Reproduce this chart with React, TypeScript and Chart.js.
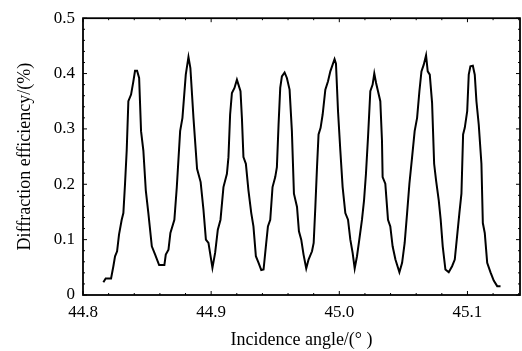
import React, { useEffect, useRef } from "react";
import { Chart, registerables } from "chart.js";

Chart.register(...registerables);

const angles: number[] = [
  44.8159, 44.8177, 44.8219, 44.8237, 44.825, 44.8266, 44.8281, 44.8302, 44.8315, 44.8328,
  44.8341, 44.8354, 44.8375, 44.8393, 44.8406, 44.8422, 44.8438, 44.8453, 44.8471, 44.849,
  44.851, 44.8537, 44.8563, 44.8594, 44.8635, 44.8646, 44.8667, 44.8682, 44.8713, 44.8732,
  44.8758, 44.8776, 44.8802, 44.8823, 44.8838, 44.8862, 44.889, 44.8918, 44.894, 44.8959,
  44.8979, 44.901, 44.9031, 44.9052, 44.9073, 44.9096, 44.9123, 44.9135, 44.9148, 44.9162,
  44.9182, 44.9201, 44.9213, 44.9229, 44.924, 44.9252, 44.9271, 44.9291, 44.9313, 44.933,
  44.9349, 44.937, 44.9391, 44.9409, 44.9427, 44.9443, 44.9461, 44.9479, 44.95, 44.9513,
  44.9526, 44.9539, 44.9552, 44.9573, 44.9591, 44.9612, 44.963, 44.9646, 44.967, 44.9685,
  44.9703, 44.9721, 44.9742, 44.976, 44.9787, 44.98, 44.9813, 44.9826, 44.9838, 44.9854,
  44.987, 44.9891, 44.9912, 44.993, 44.9948, 44.9963, 44.9974, 44.999, 45.0008, 45.0026,
  45.0047, 45.0068, 45.0086, 45.0104, 45.012, 45.0138, 45.0156, 45.0177, 45.0193, 45.0208,
  45.0224, 45.0242, 45.026, 45.0273, 45.0287, 45.032, 45.0333, 45.0338, 45.0359, 45.038,
  45.0398, 45.0416, 45.0438, 45.0469, 45.049, 45.051, 45.0529, 45.0547, 45.0568, 45.0588,
  45.0607, 45.0625, 45.0641, 45.0659, 45.0677, 45.069, 45.0706, 45.0724, 45.074, 45.0755,
  45.0776, 45.0791, 45.0807, 45.0828, 45.0854, 45.088, 45.0901, 45.0919, 45.0937, 45.0953,
  45.0966, 45.0979, 45.0998, 45.101, 45.1023, 45.1042, 45.1057, 45.107, 45.1088, 45.1109,
  45.112, 45.1135, 45.1154, 45.118, 45.1205, 45.1232, 45.1258,
];

const efficiency: number[] = [
  0.023, 0.03, 0.03, 0.052, 0.07, 0.079, 0.109, 0.136, 0.148, 0.201,
  0.261, 0.35, 0.362, 0.386, 0.405, 0.405, 0.392, 0.296, 0.261, 0.189,
  0.148, 0.088, 0.073, 0.054, 0.054, 0.073, 0.082, 0.112, 0.136, 0.195,
  0.296, 0.32, 0.398, 0.43, 0.41, 0.32, 0.228, 0.204, 0.154, 0.1,
  0.094, 0.049, 0.076, 0.118, 0.136, 0.195, 0.219, 0.249, 0.326, 0.365,
  0.374, 0.389, 0.38, 0.368, 0.32, 0.249, 0.237, 0.189, 0.148, 0.124,
  0.07, 0.058, 0.045, 0.046, 0.088, 0.124, 0.136, 0.195, 0.213, 0.231,
  0.308, 0.374, 0.395, 0.402, 0.392, 0.371, 0.296, 0.183, 0.159, 0.115,
  0.1, 0.073, 0.048, 0.064, 0.079, 0.094, 0.159, 0.231, 0.29, 0.302,
  0.326, 0.371, 0.386, 0.404, 0.416, 0.426, 0.418, 0.332, 0.261, 0.195,
  0.148, 0.136, 0.1, 0.076, 0.048, 0.07, 0.1, 0.136, 0.171, 0.219,
  0.285, 0.368, 0.38, 0.4, 0.383, 0.35, 0.279, 0.213, 0.201, 0.136,
  0.124, 0.088, 0.064, 0.041, 0.058, 0.094, 0.148, 0.201, 0.249, 0.296,
  0.32, 0.368, 0.404, 0.416, 0.433, 0.404, 0.398, 0.347, 0.237, 0.207,
  0.171, 0.136, 0.088, 0.046, 0.041, 0.052, 0.064, 0.106, 0.148, 0.183,
  0.29, 0.302, 0.332, 0.398, 0.413, 0.414, 0.398, 0.35, 0.308, 0.237,
  0.13, 0.112, 0.058, 0.041, 0.026, 0.016, 0.016,
];

const xTicks: number[] = [44.8, 44.9, 45.0, 45.1];
const yTicks: number[] = [0, 0.1, 0.2, 0.3, 0.4, 0.5];
const xTitle = "Incidence angle/(° )";
const yTitle = "Diffraction efficiency/(%)";

const FONT = "'Liberation Serif', 'Times New Roman', serif";

const framePlugin = {
  id: "frame",
  afterDraw(chart: any) {
    const { ctx, chartArea } = chart;
    const { left, right, top, bottom } = chartArea;
    const xs = chart.scales.x;
    const ys = chart.scales.y;
    ctx.save();
    ctx.strokeStyle = "#000";
    ctx.lineWidth = 1.8;
    ctx.strokeRect(left, top, right - left, bottom - top);
    ctx.lineWidth = 1;
    for (let v = 44.8; v <= 45.141; v += 0.02) {
      const px = xs.getPixelForValue(v);
      const major = Math.abs(Math.round(v * 10) - v * 10) < 1e-6;
      const len = major ? 4 : 2;
      ctx.beginPath();
      ctx.moveTo(px, bottom);
      ctx.lineTo(px, bottom - len);
      ctx.moveTo(px, top);
      ctx.lineTo(px, top + len);
      ctx.stroke();
    }
    for (let v = 0; v <= 0.5001; v += 0.02) {
      const py = ys.getPixelForValue(v);
      const major = Math.abs(Math.round(v * 10) - v * 10) < 1e-6;
      const len = major ? 4 : 2;
      ctx.beginPath();
      ctx.moveTo(left, py);
      ctx.lineTo(left + len, py);
      ctx.moveTo(right, py);
      ctx.lineTo(right - len, py);
      ctx.stroke();
    }
    ctx.restore();
  },
};

export default function App() {
  const ref = useRef<HTMLCanvasElement | null>(null);
  useEffect(() => {
    document.body.style.margin = "0";
    const canvas = ref.current;
    if (!canvas) return;
    const points = angles.map((a, i) => ({ x: a, y: efficiency[i] }));
    const chart = new Chart(canvas, {
      type: "line",
      data: {
        datasets: [
          {
            data: points,
            borderColor: "#000",
            borderWidth: 2,
            pointRadius: 0,
            tension: 0,
            fill: false,
          },
        ],
      },
      plugins: [framePlugin],
      options: {
        animation: false,
        responsive: false,
        devicePixelRatio: 1,
        layout: { padding: { top: 16, right: 2, left: 0, bottom: 0 } },
        plugins: { legend: { display: false }, tooltip: { enabled: false } },
        scales: {
          x: {
            type: "linear",
            min: 44.8,
            max: 45.141,
            afterBuildTicks: (s: any) => {
              s.ticks = xTicks.map((v) => ({ value: v }));
            },
            afterFit: (s: any) => {
              s.height = 56;
            },
            grid: { display: false, drawTicks: false },
            border: { display: false },
            ticks: {
              color: "#000",
              font: { family: FONT, size: 17 },
              padding: 7,
              maxRotation: 0,
              autoSkip: false,
              callback: (v: any) => Number(v).toFixed(1),
            },
            title: {
              display: true,
              text: xTitle,
              color: "#000",
              font: { family: FONT, size: 18 },
              padding: { top: 0, bottom: 0 },
            },
          },
          y: {
            type: "linear",
            min: 0,
            max: 0.5,
            afterBuildTicks: (s: any) => {
              s.ticks = yTicks.map((v) => ({ value: v }));
            },
            afterFit: (s: any) => {
              s.width = 83;
            },
            grid: { display: false, drawTicks: false },
            border: { display: false },
            ticks: {
              color: "#000",
              font: { family: FONT, size: 17 },
              padding: 8,
              autoSkip: false,
              callback: (v: any) => (Number(v) === 0 ? "0" : Number(v).toFixed(1)),
            },
            title: {
              display: true,
              text: yTitle,
              color: "#000",
              font: { family: FONT, size: 18 },
              padding: { top: 14, bottom: 0 },
            },
          },
        },
      },
    } as any);
    return () => chart.destroy();
  }, []);
  return (
    <div style={{ position: "absolute", left: 0, top: 0, width: 522, height: 351 }}>
      <canvas ref={ref} width={522} height={351} style={{ width: 522, height: 351 }} />
    </div>
  );
}
